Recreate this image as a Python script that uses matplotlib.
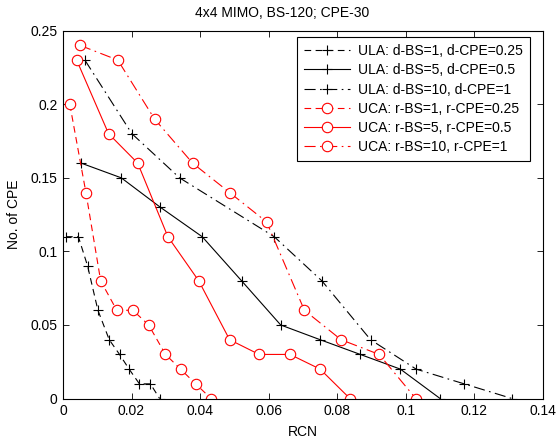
import matplotlib
matplotlib.use("Agg")
import matplotlib.pyplot as plt

plt.rcParams['font.family'] = ['Liberation Sans', 'DejaVu Sans']

title = "4x4 MIMO, BS-120; CPE-30"
xlabel = "RCN"
ylabel = "No. of CPE"
xticks = [0, 0.02, 0.04, 0.06, 0.08, 0.1, 0.12, 0.14]
xticklabels = ["0", "0.02", "0.04", "0.06", "0.08", "0.1", "0.12", "0.14"]
yticks = [0, 0.05, 0.1, 0.15, 0.2, 0.25]
yticklabels = ["0", "0.05", "0.1", "0.15", "0.2", "0.25"]

labels = [
    "ULA: d-BS=1, d-CPE=0.25",
    "ULA: d-BS=5, d-CPE=0.5",
    "ULA: d-BS=10, d-CPE=1",
    "UCA: r-BS=1, r-CPE=0.25",
    "UCA: r-BS=5, r-CPE=0.5",
    "UCA: r-BS=10, r-CPE=1",
]

ula1_x = [0.0009, 0.0045, 0.0072, 0.0102, 0.0135, 0.0165, 0.0193, 0.0223, 0.0255, 0.0282]
ula1_y = [0.11, 0.11, 0.09, 0.06, 0.04, 0.03, 0.02, 0.01, 0.01, 0.0]

ula5_x = [0.0053, 0.017, 0.0284, 0.0406, 0.0521, 0.0635, 0.075, 0.0867, 0.0984, 0.110]
ula5_y = [0.16, 0.15, 0.13, 0.11, 0.08, 0.05, 0.04, 0.03, 0.02, 0.0]

ula10_x = [0.0064, 0.0201, 0.034, 0.0616, 0.0755, 0.0897, 0.103, 0.117, 0.131]
ula10_y = [0.23, 0.18, 0.15, 0.11, 0.08, 0.04, 0.02, 0.01, 0.0]

uca1_x = [0.002, 0.0067, 0.011, 0.0157, 0.0204, 0.025, 0.0299, 0.0343, 0.0387, 0.0432]
uca1_y = [0.20, 0.14, 0.08, 0.06, 0.06, 0.05, 0.03, 0.02, 0.01, 0.0]

uca5_x = [0.004, 0.0133, 0.0218, 0.0306, 0.0396, 0.0486, 0.0572, 0.0662, 0.075, 0.0837]
uca5_y = [0.23, 0.18, 0.16, 0.11, 0.08, 0.04, 0.03, 0.03, 0.02, 0.0]

uca10_x = [0.005, 0.016, 0.0267, 0.0378, 0.0486, 0.0594, 0.0704, 0.0811, 0.0922, 0.1029]
uca10_y = [0.24, 0.23, 0.19, 0.16, 0.14, 0.12, 0.06, 0.04, 0.03, 0.0]

fs = 10
fig = plt.figure(figsize=(5.57, 4.38), dpi=100)
ax = fig.add_axes([0.113, 0.090, 0.862, 0.840])

lw = 0.8
pkw = dict(marker='+', markersize=7.5, markeredgewidth=0.8)
okw = dict(marker='o', markersize=7.5, markerfacecolor='white', markeredgewidth=0.8)
dashed = (0, (6, 4))
dashdot = (0, (10, 4, 1.5, 4))
ax.plot(ula1_x, ula1_y, color='black', linestyle=dashed, linewidth=lw, label=labels[0], **pkw)
ax.plot(ula5_x, ula5_y, color='black', linestyle='-', linewidth=lw, label=labels[1], **pkw)
ax.plot(ula10_x, ula10_y, color='black', linestyle=dashdot, linewidth=lw, label=labels[2], **pkw)
ax.plot(uca1_x, uca1_y, color='red', linestyle=dashed, linewidth=lw, label=labels[3], **okw)
ax.plot(uca5_x, uca5_y, color='red', linestyle='-', linewidth=lw, label=labels[4], **okw)
ax.plot(uca10_x, uca10_y, color='red', linestyle=dashdot, linewidth=lw, label=labels[5], **okw)

ax.set_xlim(0, 0.14)
ax.set_ylim(0, 0.25)
ax.set_xticks(xticks)
ax.set_xticklabels(xticklabels)
ax.set_yticks(yticks)
ax.set_yticklabels(yticklabels)
ax.tick_params(direction='in', top=True, right=True, length=4, width=0.6, labelsize=fs, pad=4)
for s in ax.spines.values():
    s.set_linewidth(0.8)
ax.set_title(title, fontsize=fs, pad=10, x=0.456)
ax.set_xlabel(xlabel, fontsize=fs, labelpad=5)
ax.set_ylabel(ylabel, fontsize=fs, labelpad=7)

leg = ax.legend(loc='upper right', bbox_to_anchor=(530 / 557, 1 - 37 / 438),
                bbox_transform=fig.transFigure, fontsize=fs, frameon=True, fancybox=False,
                edgecolor='black', framealpha=1, handlelength=3.3, borderpad=0.5,
                labelspacing=0.38, borderaxespad=0.0, handletextpad=0.6)
leg.get_frame().set_linewidth(0.8)

fig.savefig("out.png", dpi=100)
